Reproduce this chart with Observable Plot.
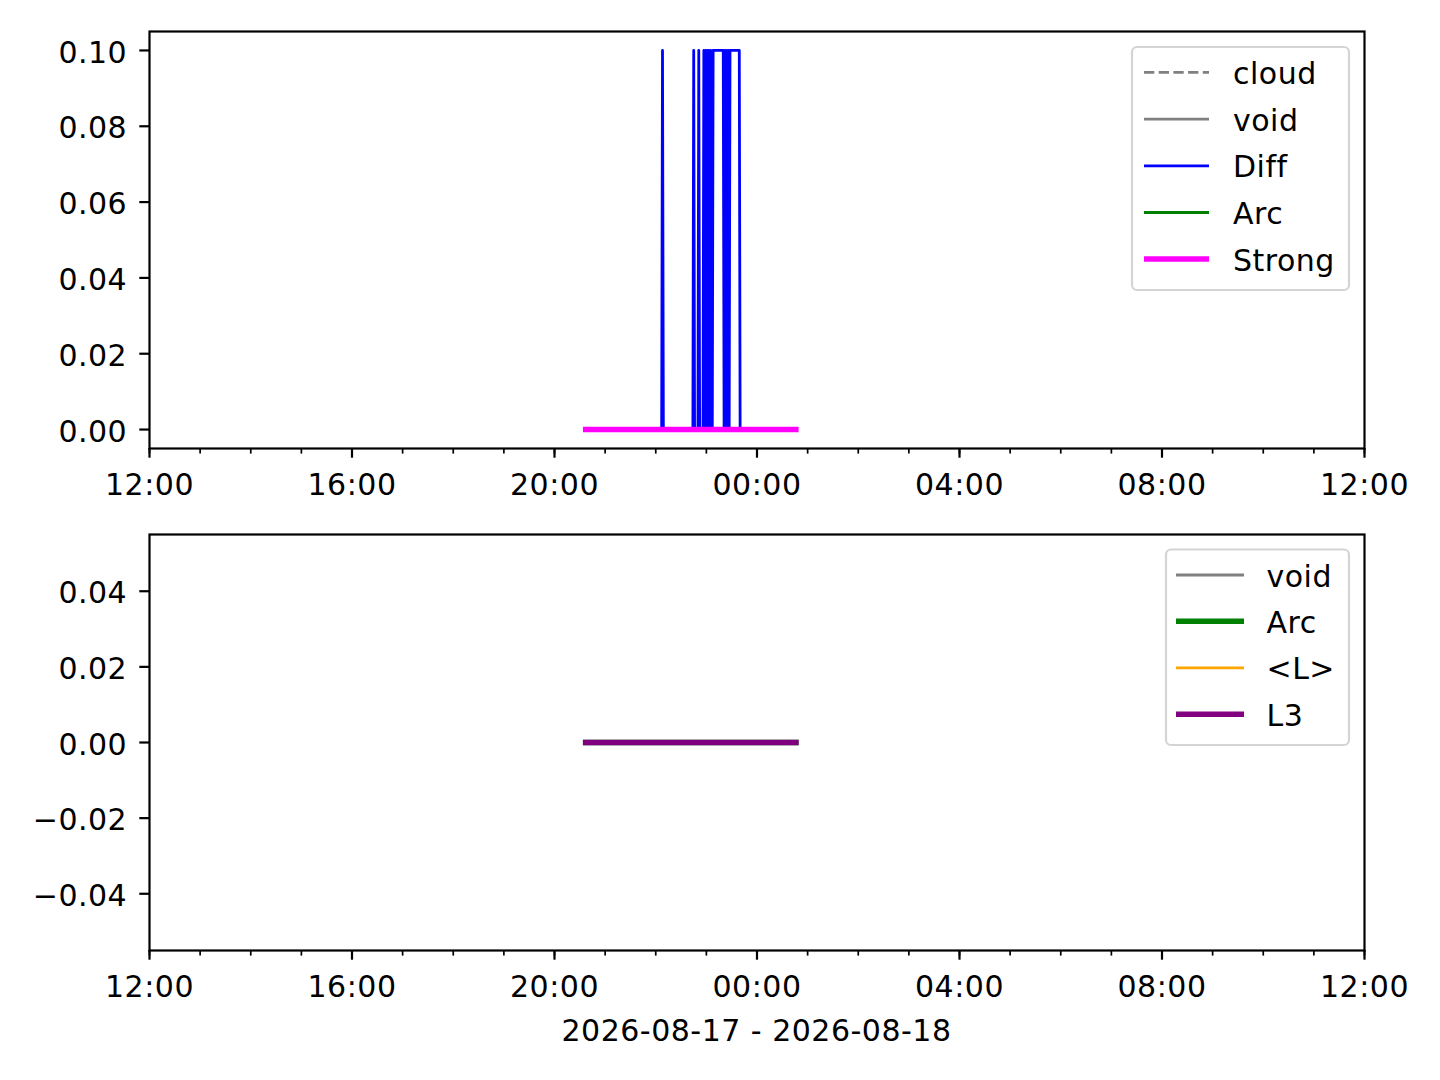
<!DOCTYPE html>
<html>
<head>
<meta charset="utf-8">
<script src="https://cdn.jsdelivr.net/npm/d3@7"></script>
<script src="https://cdn.jsdelivr.net/npm/@observablehq/plot@0.6"></script>
<style>
  html, body { margin: 0; padding: 0; background: white; overflow: hidden; }
  #wrap { position: relative; width: 1440px; height: 1080px; background: white; font-family: "DejaVu Sans", sans-serif; }
  #wrap text { letter-spacing: 0.5px; }
</style>
</head>
<body>
<div id="wrap"></div>
<script>
// ---------- data ----------
const xStart = "2026-08-17 12:00";
const xEnd = "2026-08-18 12:00";
const xLabel = "2026-08-17 - 2026-08-18";

// Diff series (blue), top panel
const diffTimes = ["20:37","22:07","22:08","22:09","22:44","22:45","22:46","22:50","22:51","22:52",
  "22:56","22:57","22:58","22:59","23:00","23:01","23:02","23:03","23:04","23:05","23:06","23:07","23:08",
  "23:20","23:21","23:22","23:23","23:24","23:25","23:26","23:27","23:28","23:39","23:40","00:46"];
const diffValues = [0,0,0.1,0,0,0.1,0,0,0.1,0,
  0,0.1,0,0.1,0,0.1,0,0.1,0,0.1,0,0,0.1,
  0.1,0,0.1,0,0.1,0,0.1,0,0.1,0.1,0,0];

// Strong (magenta), top panel
const strongTimes = ["20:37","00:46"];
const strongValues = [0, 0];
// Arc (green), top panel
const arcTopTimes = ["20:37","00:46"];
const arcTopValues = [0, 0];

// bottom panel
const arcBotTimes = ["20:37","00:46"];
const arcBotValues = [0, 0];
const lMeanTimes = ["20:37","00:46"];
const lMeanValues = [0, 0];
const l3Times = ["20:37","00:46"];
const l3Values = [0, 0];

const topYTicks = [0, 0.02, 0.04, 0.06, 0.08, 0.10];
const botYTicks = [-0.04, -0.02, 0, 0.02, 0.04];
const topYDomain = [-0.005, 0.105];
const botYDomain = [-0.055, 0.055];

const topLegend = [
  {label: "cloud", color: "#808080", width: 2.8, dash: "10.3 4.4"},
  {label: "void", color: "#808080", width: 2.8, dash: null},
  {label: "Diff", color: "#0000ff", width: 2.8, dash: null},
  {label: "Arc", color: "#008000", width: 2.8, dash: null},
  {label: "Strong", color: "#ff00ff", width: 5.6, dash: null}
];
const botLegend = [
  {label: "void", color: "#808080", width: 2.8, dash: null},
  {label: "Arc", color: "#008000", width: 5.6, dash: null},
  {label: "<L>", color: "#ffa500", width: 2.8, dash: null},
  {label: "L3", color: "#800080", width: 5.6, dash: null}
];

// ---------- helpers ----------
function parseFull(s) {
  const [d, t] = s.split(" ");
  const [Y, M, D] = d.split("-").map(Number);
  const [h, m] = t.split(":").map(Number);
  return new Date(Date.UTC(Y, M - 1, D, h, m));
}
function parseHM(s) {
  const [h, m] = s.split(":").map(Number);
  return new Date(Date.UTC(2026, 7, h >= 12 ? 17 : 18, h, m));
}
function rows(times, values) {
  return times.map((t, i) => ({t: parseHM(t), v: values[i]}));
}

const xDomain = [parseFull(xStart), parseFull(xEnd)];
const FONT = "DejaVu Sans";
const FS = 30;

function commonAxes(yTicks) {
  return [
    Plot.axisX({ticks: d3.utcHour.every(1), tickSize: 5.6, strokeWidth: 1.7, tickFormat: () => "", label: null}),
    Plot.axisX({ticks: d3.utcHour.every(4), tickSize: 9.7, strokeWidth: 2.2, tickFormat: () => "", label: null}),
    Plot.axisX({ticks: d3.utcHour.every(4), tickSize: 0, tickPadding: 25, fontSize: FS,
      tickFormat: d3.utcFormat("%H:%M"), label: null}),
    Plot.axisY({ticks: yTicks, tickSize: 9.7, strokeWidth: 2.2, tickFormat: () => "", label: null}),
    Plot.axisY({ticks: yTicks, tickSize: 0, tickPadding: 22.3, dy: 2.5, fontSize: FS,
      tickFormat: d3.format(".2f"), label: null}),
    Plot.frame({stroke: "black", strokeWidth: 2.2})
  ];
}

function lineMark(data, color, width, dash) {
  return Plot.line(data, {x: "t", y: "v", stroke: color, strokeWidth: width,
    strokeDasharray: dash || undefined, strokeLinecap: "square", strokeLinejoin: "round"});
}

const wrap = document.getElementById("wrap");

// ---------- top panel ----------
const topPlot = Plot.plot({
  width: 1440, height: 520,
  marginTop: 31, marginBottom: 72, marginLeft: 149, marginRight: 76,
  style: {fontFamily: FONT, fontSize: FS + "px", background: "transparent", color: "black", overflow: "visible"},
  x: {type: "utc", domain: xDomain},
  y: {domain: topYDomain},
  marks: [
    lineMark(rows(arcTopTimes, arcTopValues), "#008000", 2.8),
    lineMark(rows(diffTimes, diffValues), "#0000ff", 2.8),
    lineMark(rows(strongTimes, strongValues), "#ff00ff", 5.6),
    ...commonAxes(topYTicks)
  ]
});
topPlot.style.position = "absolute"; topPlot.style.top = "0px"; topPlot.style.left = "0px";
wrap.appendChild(topPlot);

// ---------- bottom panel ----------
const botPlot = Plot.plot({
  width: 1440, height: 560,
  marginTop: 14, marginBottom: 130, marginLeft: 149, marginRight: 76,
  style: {fontFamily: FONT, fontSize: FS + "px", background: "transparent", color: "black", overflow: "visible"},
  x: {type: "utc", domain: xDomain},
  y: {domain: botYDomain},
  marks: [
    lineMark(rows(arcBotTimes, arcBotValues), "#008000", 5.6),
    lineMark(rows(lMeanTimes, lMeanValues), "#ffa500", 2.8),
    lineMark(rows(l3Times, l3Values), "#800080", 5.6),
    ...commonAxes(botYTicks)
  ]
});
botPlot.style.position = "absolute"; botPlot.style.top = "520px"; botPlot.style.left = "0px";
wrap.appendChild(botPlot);

// ---------- legends and x label (overlay) ----------
const ov = d3.select(wrap).append("svg")
  .attr("width", 1440).attr("height", 1080)
  .style("position", "absolute").style("top", "0px").style("left", "0px")
  .style("font-family", FONT).style("font-size", FS + "px");

function drawLegend(items, box, x1, x2, tx, ys) {
  ov.append("rect").attr("x", box.x).attr("y", box.y).attr("width", box.w).attr("height", box.h)
    .attr("rx", 5).attr("fill", "white").attr("fill-opacity", 0.8)
    .attr("stroke", "#d4d4d4").attr("stroke-width", 2.2);
  items.forEach((it, i) => {
    const y = ys[i];
    ov.append("line").attr("x1", x1).attr("x2", x2).attr("y1", y).attr("y2", y)
      .attr("stroke", it.color).attr("stroke-width", it.width)
      .attr("stroke-dasharray", it.dash);
    ov.append("text").attr("x", tx).attr("y", y + 11.5).attr("fill", "black").text(it.label);
  });
}
drawLegend(topLegend, {x: 1132, y: 47, w: 217, h: 243}, 1144, 1209, 1233, [72.3, 119.1, 165.9, 212.5, 259]);
drawLegend(botLegend, {x: 1166, y: 549.5, w: 183, h: 195.5}, 1176, 1244, 1266.5, [575, 621.3, 667.8, 714.3]);

ov.append("text").attr("x", 756.5).attr("y", 1041).attr("text-anchor", "middle")
  .attr("fill", "black").text(xLabel);
</script>
</body>
</html>
